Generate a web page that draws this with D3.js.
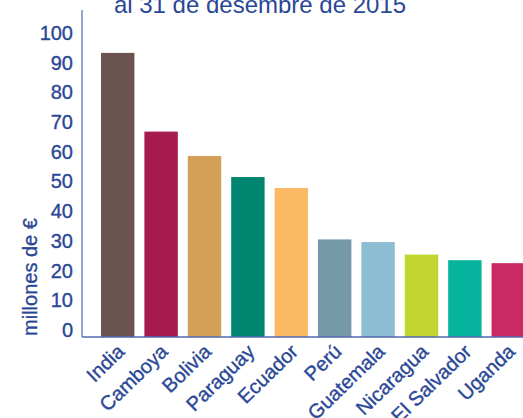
<!DOCTYPE html>
<html>
<head>
<meta charset="utf-8">
<script src="https://cdn.jsdelivr.net/npm/d3@7"></script>
<style>
  body { margin: 0; background: #fff; }
  svg { display: block; font-family: "Liberation Sans", Arial, sans-serif; }
  .lbl { font-family: "Liberation Sans", Arial, sans-serif; font-size: 20px; stroke-width: 0.35px; }
</style>
</head>
<body>
<svg id="mainSvg" width="523" height="418"></svg>
<script>
// data
var countries = ["India", "Camboya", "Bolivia", "Paraguay", "Ecuador", "Perú", "Guatemala", "Nicaragua", "El Salvador", "Uganda"];
var amounts = [93.3, 66.8, 58.6, 51.5, 47.8, 30.5, 29.6, 25.4, 23.5, 22.5];
var barColors = ["#6b5350", "#a51b4d", "#d49f57", "#008671", "#fcb964", "#7699aa", "#8dbdd2", "#c2d632", "#06b39c", "#c92a62"];
var yTicks = [0, 10, 20, 30, 40, 50, 60, 70, 80, 90, 100];

var textColor = "#2a4796",
    axisColor = "#5068b0";

var svg = d3.select("#mainSvg");

var x = d3.scaleBand()
    .domain(countries)
    .range([101, 525])
    .paddingInner(0.23)
    .paddingOuter(0);

var y = d3.scaleLinear()
    .domain([0, 100])
    .range([330, 33]);

var baseY = y(0) + 7;   // bars sit a little below the "0" label

// title (first line is cut off in the original)
svg.append("text")
    .attr("x", 260)
    .attr("y", 13)
    .attr("text-anchor", "middle")
    .style("font-size", "24px")
    .style("fill", textColor)
    .text("al 31 de desembre de 2015");

// bars
svg.selectAll(".bar")
    .data(amounts)
    .enter().append("rect")
    .attr("class", "bar")
    .attr("x", function(d, i) { return x(countries[i]); })
    .attr("width", x.bandwidth())
    .attr("y", function(d) { return y(d); })
    .attr("height", function(d) { return baseY - y(d); })
    .attr("fill", function(d, i) { return barColors[i]; });

// axis lines
svg.append("line")
    .attr("x1", 82).attr("x2", 82)
    .attr("y1", 10).attr("y2", baseY)
    .attr("stroke", axisColor).attr("stroke-width", 1.2);
svg.append("line")
    .attr("x1", 82).attr("x2", 523)
    .attr("y1", baseY).attr("y2", baseY)
    .attr("stroke", axisColor).attr("stroke-width", 1.5);

// y axis labels
var yAxis = svg.append("g")
    .attr("transform", "translate(73,0)")
    .call(d3.axisLeft(y).tickValues(yTicks).tickSize(0).tickPadding(0));
yAxis.select(".domain").remove();
yAxis.selectAll("text")
    .attr("class", "lbl")
    .attr("fill", textColor)
    .attr("stroke", textColor);

// x axis labels
var xAxis = svg.append("g")
    .attr("transform", "translate(0," + baseY + ")")
    .call(d3.axisBottom(x).tickSize(0).tickPadding(0));
xAxis.select(".domain").remove();
xAxis.selectAll("text")
    .attr("class", "lbl")
    .attr("fill", textColor)
    .attr("stroke", textColor)
    .style("text-anchor", "end")
    .attr("y", 0)
    .attr("dy", 0)
    .attr("transform", "translate(8,16) rotate(-44)");

// y axis title
svg.append("text")
    .attr("class", "lbl")
    .attr("transform", "translate(37,277) rotate(-90)")
    .attr("text-anchor", "middle")
    .style("fill", textColor)
    .style("stroke", textColor)
    .text("millones de €");
</script>
</body>
</html>
